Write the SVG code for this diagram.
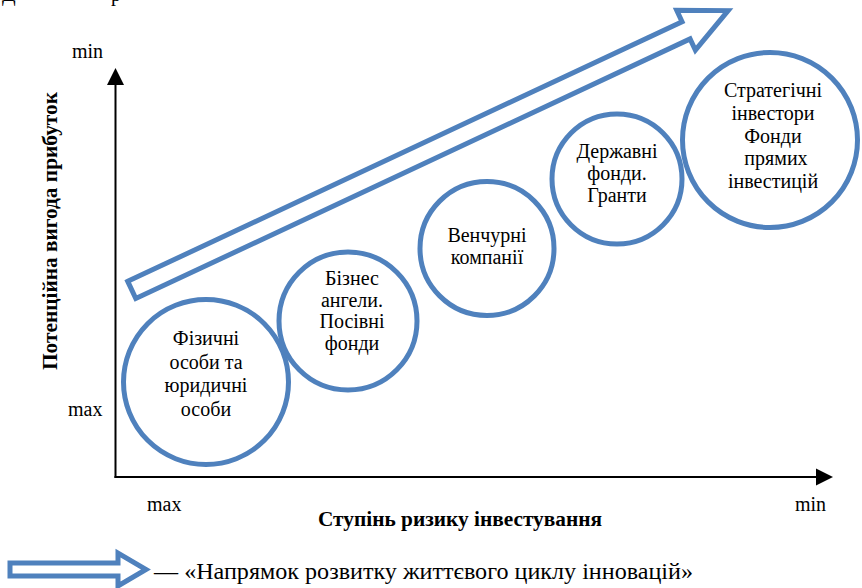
<svg xmlns="http://www.w3.org/2000/svg" width="862" height="588" viewBox="0 0 862 588" font-family="'Liberation Serif', 'Times New Roman', serif">
  <defs>
    <style>
      .node-text { font-size: 20px; text-anchor: middle; fill: #000; }
      .tick { font-size: 20px; fill: #000; }
      .axis-title { font-size: 20px; font-weight: bold; fill: #000; }
      .bubble { fill: #fff; stroke: #4F81BD; stroke-width: 5; }
      .hollow-arrow { fill: #fff; stroke: #4F81BD; stroke-width: 5; stroke-linejoin: miter; }
      .axis { stroke: #000; stroke-width: 2; fill: none; }
    </style>
  </defs>
  <rect width="862" height="588" fill="#fff"/>

  <!-- caption line above, clipped by the top edge -->
  <text x="2" y="1" font-size="20">Д</text>
  <text x="111" y="1" font-size="20">р</text>

  <!-- axes -->
  <g id="axes">
    <line class="axis" x1="115.5" y1="478" x2="115.5" y2="82"/>
    <polygon points="115.5,68 107,85 124,85" fill="#000"/>
    <line class="axis" x1="114.5" y1="477" x2="818" y2="477"/>
    <polygon points="833,477 816,468.5 816,485.5" fill="#000"/>
  </g>

  <!-- axis labels -->
  <text class="tick" x="72" y="58">min</text>
  <text class="tick" x="68" y="416">max</text>
  <text class="tick" x="147" y="511">max</text>
  <text class="tick" x="795" y="511">min</text>
  <text class="axis-title" x="318" y="526" textLength="284" lengthAdjust="spacingAndGlyphs">Ступінь ризику інвестування</text>
  <text class="axis-title" transform="translate(57,370) rotate(-90)" textLength="278" lengthAdjust="spacingAndGlyphs">Потенційна вигода прибуток</text>

  <!-- direction arrow of the innovation life cycle -->
  <g id="connectors">
    <g transform="translate(129.5,291) rotate(-25.1)">
      <polygon class="hollow-arrow" points="2.5,-9.5 614.6,-9.5 614.6,-22 661,0 614.6,22 614.6,9.5 2.5,9.5"/>
    </g>
  </g>

  <!-- investor bubbles -->
  <g id="node-individuals">
    <circle class="bubble" cx="206" cy="382" r="82.5"/>
    <text class="node-text" x="206" y="345">Фізичні</text>
    <text class="node-text" x="206" y="368.5">особи та</text>
    <text class="node-text" x="206" y="392">юридичні</text>
    <text class="node-text" x="206" y="415.5">особи</text>
  </g>

  <g id="node-angels">
    <circle class="bubble" cx="348" cy="321" r="69"/>
    <text class="node-text" x="352" y="285">Бізнес</text>
    <text class="node-text" x="352" y="306.5">ангели.</text>
    <text class="node-text" x="352" y="328">Посівні</text>
    <text class="node-text" x="352" y="349.5">фонди</text>
  </g>

  <g id="node-venture">
    <circle class="bubble" cx="487" cy="248.5" r="67"/>
    <text class="node-text" x="487" y="242">Венчурні</text>
    <text class="node-text" x="487" y="263.5">компанії</text>
  </g>

  <g id="node-state">
    <circle class="bubble" cx="617" cy="179" r="65"/>
    <text class="node-text" x="617" y="158">Державні</text>
    <text class="node-text" x="617" y="180">фонди.</text>
    <text class="node-text" x="617" y="202">Гранти</text>
  </g>

  <g id="node-strategic">
    <circle class="bubble" cx="770" cy="140" r="87.5"/>
    <text class="node-text" x="773" y="97">Стратегічні</text>
    <text class="node-text" x="773" y="120">інвестори</text>
    <text class="node-text" x="773" y="143">Фонди</text>
    <text class="node-text" x="776" y="165">прямих</text>
    <text class="node-text" x="773" y="188">інвестицій</text>
  </g>

  <!-- legend -->
  <g id="legend">
    <polygon class="hollow-arrow" points="10,563 118,563 118,553 146,569.5 118,586 118,576 10,576"/>
    <text x="154" y="579" font-size="24" textLength="539" lengthAdjust="spacingAndGlyphs">— «Напрямок розвитку життєвого циклу інновацій»</text>
  </g>
</svg>
